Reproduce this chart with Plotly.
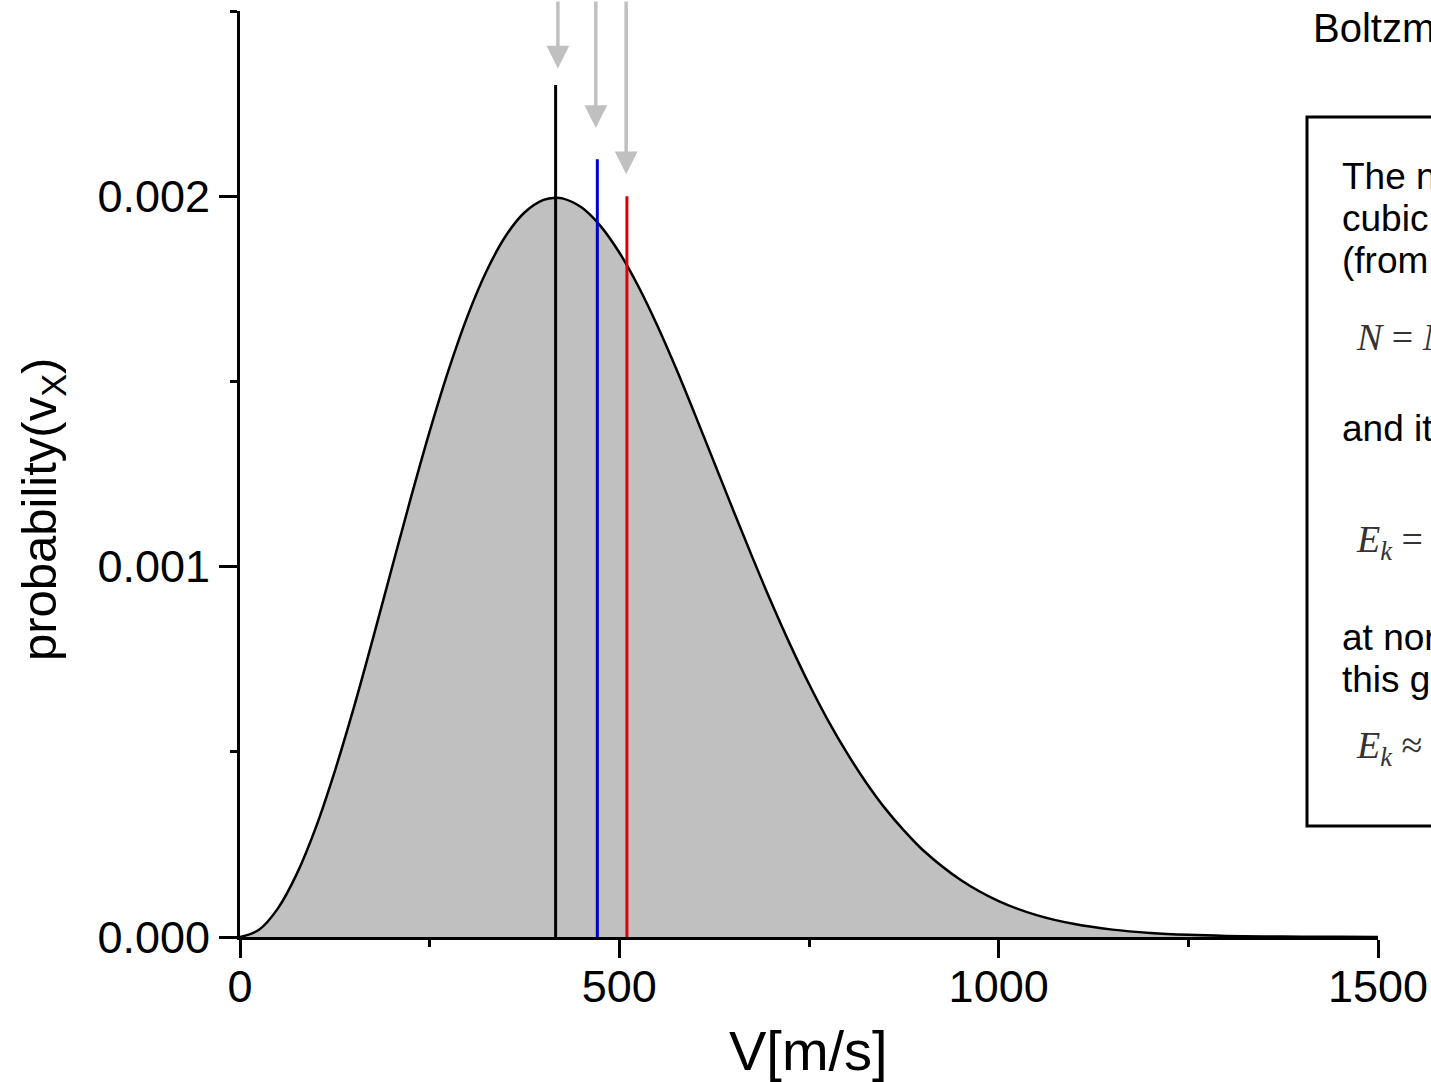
import plotly.graph_objects as go

# ---- data ----
speeds = [0, 25, 50, 75, 100, 125, 150, 175, 200, 225, 250, 275, 300, 325, 350, 375,
          400, 416, 425, 450, 475, 500, 525, 550, 575, 600, 625, 650, 675, 700, 725,
          750, 775, 800, 825, 850, 875, 900, 950, 1000, 1050, 1100, 1150, 1200, 1250,
          1300, 1350, 1400, 1450, 1500]
prob = [0.0, 0.0000195, 0.0000773, 0.000171, 0.000296, 0.000448, 0.000619, 0.000804,
        0.000995, 0.001184, 0.001365, 0.001531, 0.001677, 0.001798, 0.001892, 0.001956,
        0.001990, 0.001996, 0.001994, 0.001970, 0.001920, 0.001848, 0.001757, 0.001651,
        0.001534, 0.001409, 0.001281, 0.001153, 0.001027, 0.000905, 0.000790, 0.000683,
        0.000585, 0.000497, 0.000418, 0.000348, 0.000288, 0.000235, 0.000154, 0.0000970,
        0.0000591, 0.0000349, 0.0000199, 0.0000110, 0.0000059, 0.0000030, 0.0000015,
        0.0000007, 0.0000004, 0.0000002]

# characteristic speeds: most probable, mean, rms
marker_speeds = [416, 471, 510]
marker_tops = [0.00230, 0.00210, 0.00200]
marker_colors = ["#000000", "#0000cc", "#e00000"]
arrow_speeds = [419, 469, 509]
arrow_tips = [0.002345, 0.002184, 0.002059]

x_tickvals = [0, 500, 1000, 1500]
x_ticktext = ["0", "500", "1000", "1500"]
y_tickvals = [0, 0.001, 0.002]
y_ticktext = ["0.000", "0.001", "0.002"]

W, H = 1431, 1082
L, R, T, B = 240, 53, 11, 145
PW, PH = W - L - R, H - T - B


def px(xp):
    return (xp - L) / PW


def py(yp):
    return (H - B - yp) / PH


FONT = "Liberation Sans, Arial, sans-serif"
SERIF = "Liberation Serif, Times New Roman, serif"

fig = go.Figure()
fig.add_trace(go.Scatter(x=speeds, y=prob, mode="lines", fill="tozeroy",
                         fillcolor="#c0c0c0", line=dict(color="black", width=2.5, shape="spline"),
                         hoverinfo="skip", showlegend=False))
for v, top, c in zip(marker_speeds, marker_tops, marker_colors):
    fig.add_trace(go.Scatter(x=[v, v], y=[0, top], mode="lines",
                             line=dict(color=c, width=3), showlegend=False, hoverinfo="skip"))

annotations = []
for v, tip in zip(arrow_speeds, arrow_tips):
    tip_px = (H - B) - tip / 0.0025 * PH
    annotations.append(dict(x=v, y=tip, xref="x", yref="y", text="", showarrow=True,
                            ax=0, ay=-tip_px - 2, arrowcolor="#c0c0c0", arrowwidth=3.5,
                            arrowhead=2, arrowsize=1.3, standoff=0))

# axis titles
annotations.append(dict(x=px(808), y=py(1050), xref="paper", yref="paper", text="V[m/s]",
                        showarrow=False, font=dict(family=FONT, size=56, color="black"),
                        xanchor="center", yanchor="middle"))
annotations.append(dict(x=px(42), y=py(510), xref="paper", yref="paper",
                        text="probability(v<sub>X</sub>)", textangle=-90,
                        showarrow=False, font=dict(family=FONT, size=49, color="black"),
                        xanchor="center", yanchor="middle"))

# right side text (clipped by the window)
annotations.append(dict(x=px(1311), y=py(28), xref="paper", yref="paper",
                        text="Boltzmann distribution", showarrow=False,
                        font=dict(family=FONT, size=40, color="black"),
                        xanchor="left", yanchor="middle"))
box_lines = [
    (176, "The number of molecules in one"),
    (218, "cubic meter of gas at normal conditions"),
    (260, "(from the ideal gas law)"),
    (428, "and its kinetic energy"),
    (637, "at normal conditions (T = 273 K)"),
    (679, "this gives"),
]
for yp, t in box_lines:
    annotations.append(dict(x=px(1340), y=py(yp), xref="paper", yref="paper", text=t,
                            showarrow=False, font=dict(family=FONT, size=37, color="black"),
                            xanchor="left", yanchor="middle"))
math_lines = [
    (340, "<i>N</i> = <i>N</i><sub>A</sub> · p / RT"),
    (542, "<i>E</i><sub><i>k</i></sub> = <i>N</i> · 3/2 <i>kT</i>"),
    (748, "<i>E</i><sub><i>k</i></sub> ≈ 150 kJ"),
]
for yp, t in math_lines:
    annotations.append(dict(x=px(1354), y=py(yp), xref="paper", yref="paper", text=t,
                            showarrow=False, font=dict(family=SERIF, size=38, color="#333333"),
                            xanchor="left", yanchor="middle"))

shapes = [dict(type="rect", xref="paper", yref="paper", x0=px(1307), x1=px(1700),
               y0=py(826), y1=py(117), line=dict(color="black", width=3),
               fillcolor="rgba(0,0,0,0)")]

fig.update_layout(
    width=W, height=H, margin=dict(l=L, r=R, t=T, b=B, pad=0, autoexpand=False),
    paper_bgcolor="white", plot_bgcolor="white",
    annotations=annotations, shapes=shapes, showlegend=False,
    xaxis=dict(range=[0, 1500], showline=True, linecolor="black", linewidth=3,
               showgrid=False, zeroline=False, ticks="outside", ticklen=18, tickwidth=3,
               tickcolor="black", tickvals=x_tickvals, ticktext=x_ticktext,
               ticklabelstandoff=-10,
               tickfont=dict(family=FONT, size=45, color="black"),
               minor=dict(ticks="outside", ticklen=7, tickwidth=3, tickcolor="black",
                          dtick=250, tick0=0, showgrid=False)),
    yaxis=dict(range=[0, 0.0025], showline=True, linecolor="black", linewidth=3,
               showgrid=False, zeroline=False, ticks="outside", ticklen=18, tickwidth=3,
               tickcolor="black", tickvals=y_tickvals, ticktext=y_ticktext,
               tickfont=dict(family=FONT, size=45, color="black"),
               minor=dict(ticks="outside", ticklen=7, tickwidth=3, tickcolor="black",
                          dtick=0.0005, tick0=0, showgrid=False)),
)

fig.write_html("out.html")
